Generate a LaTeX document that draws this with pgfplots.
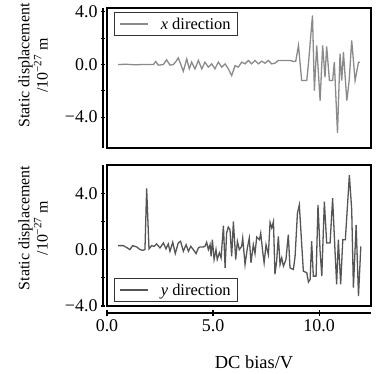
\documentclass[border=0pt]{standalone}
\usepackage{fontspec}
\setmainfont{Liberation Serif}
\usepackage{pgfplots}
\pgfplotsset{compat=1.18}
\definecolor{topline}{HTML}{8A8A8A}
\definecolor{botline}{HTML}{555555}
\pgfplotsset{
  databox/.style={scale only axis, width=264bp, xmin=0, xmax=12.45,
    xtick=\empty, ytick=\empty, axis line style={line width=1.8bp},
    legend cell align=left,
    legend image code/.code={\draw[##1] (0bp,0bp) -- (28bp,0bp);},
    legend style={font=\fontsize{16.5}{18}\selectfont, draw=black!80, line width=1.1bp,
      inner xsep=5bp, inner ysep=3bp}},
  spine/.style={scale only axis, width=264bp, xmin=0, xmax=12.45,
    tick style={line width=1.1bp, black},
    tick align=outside,
    tick label style={font=\fontsize{18}{20}\selectfont},
    label style={font=\fontsize{16}{15.5}\selectfont}},
  noarrows/.style={axis line style={line width=1.4bp},
    every outer y axis line/.append style={-},
    every inner y axis line/.append style={-},
    every outer x axis line/.append style={-},
    every inner x axis line/.append style={-}},
}
\begin{document}
\begin{tikzpicture}
\path[use as bounding box] (0bp,0bp) rectangle (376bp,374bp);
% ---------- top panel ----------
\begin{axis}[databox, at={(107bp,366bp)}, anchor=north west, height=140bp,
  ymin=-6.35, ymax=4.3,
  legend style={at={(rel axis cs:0.0265,0.971)}, anchor=north west}]
\addplot[color=topline, line width=1.3bp] coordinates {
(0.53,0.0)(0.9,0.02)(1.3,-0.02)(1.7,0.0)(2.19,0.0)(2.30,0.23)(2.42,-0.05)(2.66,0.0)
(2.81,0.36)(2.97,-0.05)(3.13,0.0)(3.25,0.23)(3.36,0.51)(3.47,0.05)(3.60,-0.51)(3.76,0.43)
(3.88,-0.33)(3.99,0.18)(4.15,-0.33)(4.31,0.31)(4.47,-0.33)(4.62,0.18)(4.78,-0.2)(4.94,0.05)
(5.09,-0.33)(5.25,0.18)(5.41,-0.2)(5.57,0.05)(5.72,-0.33)(5.88,-0.84)(6.04,-0.08)(6.19,-0.2)
(6.35,0.18)(6.51,0.05)(6.67,0.31)(6.82,0.05)(6.98,0.31)(7.14,0.05)(7.30,0.25)(7.45,0.10)
(7.61,0.31)(7.77,0.05)(7.92,0.10)(8.08,0.31)(8.32,0.31)(8.63,0.31)(8.82,0.23)(8.90,0.25)
(9.03,1.45)(9.18,-1.22)(9.42,-1.22)(9.50,0.05)(9.69,3.74)(9.78,-1.98)(9.89,1.45)(10.05,-2.75)
(10.17,1.45)(10.28,-0.97)(10.36,1.37)(10.49,-1.22)(10.64,-1.22)(10.72,0.18)(10.87,-5.2)
(10.99,0.82)(11.07,-1.22)(11.15,0.94)(11.31,-2.75)(11.42,-1.22)(11.54,1.83)(11.70,-1.22)
(11.86,0.18)(11.93,0.18)};
\addlegendentry{\hspace{10bp}\textit{x} direction\hspace{4bp}}
\end{axis}
\begin{axis}[spine, at={(103bp,366bp)}, anchor=north west, height=140bp,
  ymin=-6.35, ymax=4.3, axis x line=none, axis y line=left, noarrows, xtick=\empty,
  ytick={-4,-2,0,2,4}, yticklabels={−4.0,,0.0,,4.0}, major tick length=4bp,
  ylabel={Static displacement\\/10\textsuperscript{−27} m},
  ylabel style={align=center, at={(rel axis cs:-0.265,0.59)}, anchor=center}]
\end{axis}
% ---------- bottom panel ----------
\begin{axis}[databox, at={(107bp,209bp)}, anchor=north west, height=141bp,
  ymin=-4, ymax=6,
  legend style={at={(rel axis cs:0.0265,0.028)}, anchor=south west}]
\addplot[color=botline, line width=1.3bp] coordinates {
(0.53,0.28)(0.77,0.28)(0.96,0.12)(1.08,0.0)(1.21,0.28)(1.40,0.19)(1.56,0.0)(1.68,-0.05)
(1.79,0.0)(1.87,4.34)(1.98,0.05)(2.11,0.28)(2.22,0.23)(2.34,0.40)(2.50,0.12)(2.66,0.47)
(2.78,0.05)(2.89,0.40)(2.97,-0.12)(3.10,0.52)(3.22,-0.28)(3.36,0.47)(3.47,0.59)(3.60,-0.12)
(3.73,0.35)(3.84,-0.12)(3.95,0.23)(4.07,0.0)(4.20,-0.28)(4.31,0.12)(4.39,0.19)(4.54,0.19)
(4.62,0.23)(4.70,0.52)(4.78,0.0)(4.86,0.35)(4.91,-0.47)(4.97,0.70)(5.05,-0.70)(5.14,0.0)
(5.20,-0.70)(5.30,-0.23)(5.38,-0.59)(5.49,1.69)(5.57,-1.29)(5.64,1.17)(5.72,1.60)(5.80,1.41)
(5.88,-0.47)(5.96,1.99)(6.07,-0.70)(6.15,0.59)(6.24,0.0)(6.35,0.23)(6.40,0.82)(6.51,-1.06)
(6.62,0.12)(6.71,0.82)(6.79,-0.94)(6.90,0.35)(6.98,-0.28)(7.06,0.89)(7.19,0.70)(7.25,1.17)
(7.34,-0.12)(7.41,-0.94)(7.50,0.35)(7.61,-0.35)(7.69,1.92)(7.77,1.53)(7.85,1.99)(7.92,-1.76)
(8.00,-0.82)(8.08,0.94)(8.16,-1.06)(8.24,-0.59)(8.32,-1.17)(8.44,-0.70)(8.55,1.06)(8.63,-1.29)
(8.79,-1.41)(8.87,-0.47)(8.98,2.58)(9.07,3.17)(9.15,1.17)(9.26,-1.53)(9.42,-1.64)(9.50,-2.30)
(9.58,-2.11)(9.65,0.59)(9.73,-1.88)(9.86,-1.88)(9.95,3.17)(10.05,-0.12)(10.13,-1.88)(10.25,3.40)
(10.36,0.47)(10.52,0.47)(10.64,3.64)(10.75,0.0)(10.83,-2.46)(10.91,0.70)(11.02,-2.46)(11.12,0.70)
(11.24,0.70)(11.43,5.28)(11.54,2.82)(11.62,-2.70)(11.75,1.76)(11.86,-3.29)(11.97,0.23)};
\addlegendentry{\hspace{10bp}\textit{y} direction\hspace{4bp}}
\end{axis}
\begin{axis}[spine, at={(103bp,209bp)}, anchor=north west, height=141bp,
  ymin=-4, ymax=6, axis x line=none, axis y line=left, noarrows, xtick=\empty,
  ytick={-4,-2,0,2,4}, yticklabels={−4.0,,0.0,,4.0}, major tick length=4bp,
  ylabel={Static displacement\\/10\textsuperscript{−27} m},
  ylabel style={align=center, at={(rel axis cs:-0.265,0.553)}, anchor=center}]
\end{axis}
\begin{axis}[spine, at={(107bp,61bp)}, anchor=south west, height=141bp,
  ymin=-4, ymax=6, axis y line=none, axis x line=bottom, noarrows, ytick=\empty,
  xtick={0,5,10}, xticklabels={0.0,5.0,10.0}, major tick length=7bp,
  xlabel={DC bias/V},
  xlabel style={font=\fontsize{18.5}{20}\selectfont, at={(rel axis cs:0.557,0)}, anchor=north, yshift=-39bp}]
\end{axis}
\end{tikzpicture}
\end{document}
